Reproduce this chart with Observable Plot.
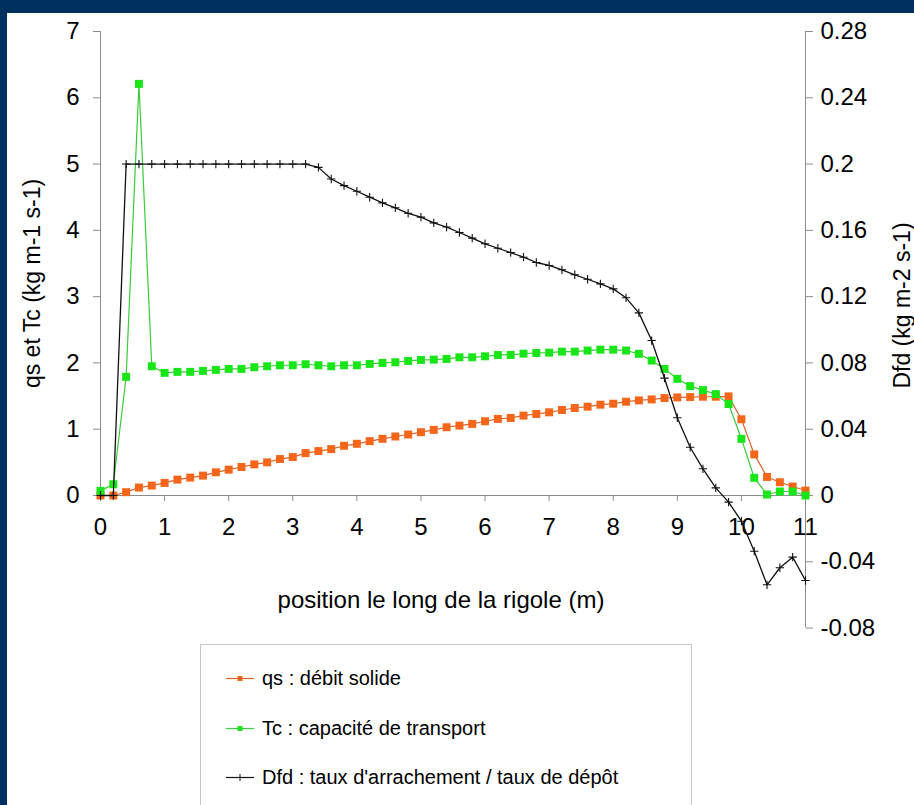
<!DOCTYPE html>
<html><head><meta charset="utf-8">
<script src="https://cdn.jsdelivr.net/npm/d3@7"></script>
<script src="https://cdn.jsdelivr.net/npm/@observablehq/plot@0.6"></script>
<style>
html,body{margin:0;padding:0;background:#00305f;width:914px;height:805px;overflow:hidden;font-family:"Liberation Sans",Arial,sans-serif;}
#frame{position:absolute;left:7px;top:13px;width:907px;height:792px;background:#fff;overflow:hidden;}
#legend{position:absolute;left:193px;top:631px;width:490px;height:170px;border:1px solid #c8c8c8;background:#fff;}
.row{position:absolute;left:25px;height:24px;display:flex;align-items:center;font-size:20px;color:#000;white-space:nowrap;}
.row svg{margin-right:8px;}
</style></head>
<body><div id="frame"><div id="chart"></div><div id="legend"></div></div>
<script>
// ---- data ----
const positions = [0,0.2,0.4,0.6,0.8,1,1.2,1.4,1.6,1.8,2,2.2,2.4,2.6,2.8,3,3.2,3.4,3.6,3.8,4,4.2,4.4,4.6,4.8,5,5.2,5.4,5.6,5.8,6,6.2,6.4,6.6,6.8,7,7.2,7.4,7.6,7.8,8,8.2,8.4,8.6,8.8,9,9.2,9.4,9.6,9.8,10,10.2,10.4,10.6,10.8,11];
const qs = [0,0,0.05,0.12,0.15,0.19,0.24,0.27,0.30,0.35,
  0.39,0.43,0.47,0.50,0.55,0.58,0.64,0.67,0.70,0.75,
  0.78,0.82,0.855,0.89,0.92,0.955,0.99,1.03,1.055,1.08,
  1.12,1.155,1.17,1.205,1.23,1.255,1.29,1.32,1.34,1.37,
  1.385,1.415,1.435,1.45,1.47,1.48,1.485,1.49,1.49,1.495,
  1.15,0.62,0.28,0.20,0.135,0.075];
const tc = [0.07,0.17,1.79,6.21,1.95,1.85,1.865,1.865,1.88,1.895,
  1.91,1.91,1.935,1.95,1.965,1.965,1.98,1.965,1.95,1.965,
  1.965,1.985,2.0,2.01,2.03,2.045,2.05,2.06,2.085,2.085,
  2.10,2.12,2.12,2.14,2.15,2.155,2.17,2.17,2.187,2.20,
  2.20,2.187,2.137,2.036,1.91,1.76,1.65,1.59,1.53,1.38,
  0.855,0.267,0.015,0.06,0.06,0.0];
const dfd = [0,0,0.2,0.2,0.2,0.2,0.2,0.2,0.2,0.2,
  0.2,0.2,0.2,0.2,0.2,0.2,0.2,0.198,0.191,0.187,
  0.1836,0.180,0.1766,0.1736,0.1703,0.168,0.1645,0.162,0.1587,0.1553,
  0.1519,0.1492,0.1466,0.1438,0.1406,0.1388,0.1362,0.1332,0.1305,0.1277,
  0.1247,0.1193,0.1102,0.0935,0.0708,0.0469,0.0291,0.0161,0.0046,-0.004,
  -0.0155,-0.0336,-0.0539,-0.0436,-0.0372,-0.0513];
const xTicks = [0,1,2,3,4,5,6,7,8,9,10,11];
const leftTicks = [0,1,2,3,4,5,6,7];
const rightTicks = [0.28,0.24,0.2,0.16,0.12,0.08,0.04,0,-0.04,-0.08];
const seriesNames = ["qs : débit solide","Tc : capacité de transport","Dfd : taux d'arrachement / taux de dépôt"];
const xTitle = "position le long de la rigole (m)";
const yLeftTitle = "qs et Tc (kg m-1 s-1)";
const yRightTitle = "Dfd (kg m-2 s-1)";

// ---- styles ----
const orangeFill = "#f5661a", orangeLine = "#d9642b";
const greenFill = "#19e619", greenLine = "#3ccb3c";
const axisGray = "#8c8c8c";
const font = "'Liberation Sans', Arial, sans-serif";

const k = leftTicks[leftTicks.length-1] / rightTicks[0]; // secondary -> primary
const rows = positions.map((x,i)=>({x, qs: qs[i], tc: tc[i], dfd: dfd[i]*k}));

const chart = Plot.plot({
  width: 907, height: 627,
  marginLeft: 93, marginRight: 109, marginTop: 18, marginBottom: 145,
  x: {domain: [0, 11]},
  y: {domain: [0, 7]},
  style: {fontFamily: font, background: "white", color: "black"},
  marks: [
    Plot.ruleX([0], {y1: 0, y2: 7, stroke: axisGray}),
    Plot.ruleX([11], {y1: rightTicks[rightTicks.length-1]*k, y2: rightTicks[0]*k, stroke: axisGray}),
    Plot.ruleY([0], {x1: 0, x2: 11, stroke: axisGray}),
    Plot.axisX(xTicks, {anchor: "bottom", tickSize: 6, tickPadding: 16, fontSize: 24, stroke: axisGray, fill: "black", label: null, tickFormat: d => String(d)}),
    Plot.axisY(leftTicks, {anchor: "left", tickSize: 7, tickPadding: 14, fontSize: 24, stroke: axisGray, fill: "black", label: null, tickFormat: d => String(d)}),
    Plot.axisY(rightTicks.map(v => v*k), {anchor: "right", tickSize: 7, tickPadding: 8, fontSize: 24, stroke: axisGray, fill: "black", label: null, tickFormat: d => String(+(d/k).toFixed(2))}),
    Plot.line(rows, {x: "x", y: "qs", stroke: orangeLine, strokeWidth: 1.2}),
    Plot.dot(rows, {x: "x", y: "qs", symbol: "square", r: 4.5, fill: orangeFill}),
    Plot.line(rows, {x: "x", y: "tc", stroke: greenLine, strokeWidth: 1.2}),
    Plot.dot(rows, {x: "x", y: "tc", symbol: "square", r: 4.5, fill: greenFill}),
    Plot.line(rows, {x: "x", y: "dfd", stroke: "#111", strokeWidth: 1.3}),
    Plot.dot(rows, {x: "x", y: "dfd", symbol: "plus", r: 2.8, stroke: "#111", strokeWidth: 1.1}),
    Plot.text([xTitle], {frameAnchor: "bottom", textAnchor: "middle", lineAnchor: "middle", dy: 105, dx: -12, fontSize: 24, fill: "black"}),
    Plot.text([yLeftTitle], {frameAnchor: "left", textAnchor: "middle", lineAnchor: "middle", dx: -68, dy: 20, rotate: -90, fontSize: 23, fill: "black"}),
    Plot.text([yRightTitle], {frameAnchor: "right", textAnchor: "middle", lineAnchor: "middle", dx: 97, dy: 42, rotate: -90, fontSize: 23, fill: "black"})
  ]
});
document.getElementById("chart").appendChild(chart);

// ---- legend ----
const legend = document.getElementById("legend");
const swatches = [
  {line: orangeLine, fill: orangeFill, mark: "square"},
  {line: greenLine, fill: greenFill, mark: "square"},
  {line: "#111", fill: "#111", mark: "plus"}
];
const rowTops = [21, 71, 120];
seriesNames.forEach((name, i) => {
  const s = swatches[i];
  const row = document.createElement("div");
  row.className = "row";
  row.style.top = rowTops[i] + "px";
  const m = s.mark === "square"
    ? `<rect x="11.5" y="3" width="5" height="5" fill="${s.fill}"/>`
    : `<line x1="14" y1="2" x2="14" y2="9" stroke="${s.fill}" stroke-width="1"/>`;
  row.innerHTML = `<svg width="28" height="11"><line x1="0" y1="5.5" x2="28" y2="5.5" stroke="${s.line}" stroke-width="1.2"/>${m}</svg><span>${name}</span>`;
  legend.appendChild(row);
});
</script>
</body></html>
